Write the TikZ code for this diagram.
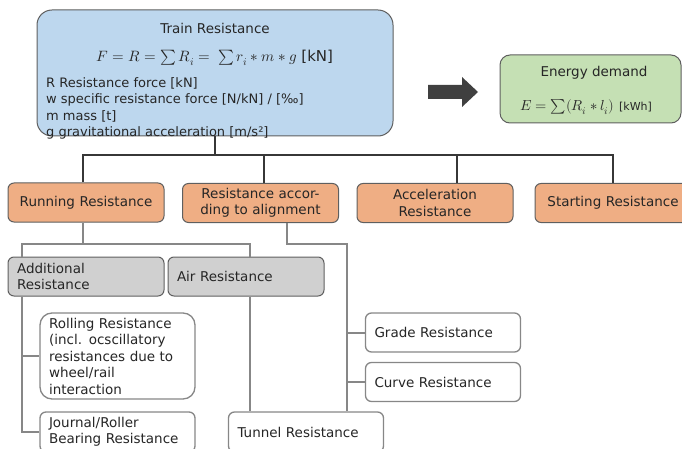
\documentclass[tikz,border=0pt]{standalone}
\usepackage{fontspec}
\usepackage{unicode-math}
\setmainfont{DejaVu Sans}
\setmathfont{Latin Modern Math}
\usepackage{tikz}
\usetikzlibrary{calc}

\definecolor{trainblue}{RGB}{189,215,238}
\definecolor{energygreen}{RGB}{197,224,180}
\definecolor{resorange}{RGB}{239,174,132}
\definecolor{resgrey}{RGB}{208,208,208}
\definecolor{boxline}{RGB}{95,95,95}
\definecolor{subline}{RGB}{135,135,135}
\definecolor{busline}{RGB}{55,55,55}

\begin{document}
\begin{tikzpicture}[x=1pt,y=-1pt,
  every node/.style={font=\fontsize{13.5}{16.5}\selectfont, text=black!85},
  resbox/.style={draw=boxline, line width=1pt, rounded corners=6pt, minimum height=39pt, inner xsep=9pt, inner ysep=2pt, text width=138pt},
  mainres/.style={resbox, fill=resorange, align=center},
  addres/.style={resbox, fill=resgrey, align=left},
  leafres/.style={resbox, draw=subline, line width=1.3pt, fill=white, align=left, text width=137pt},
  bus/.style={draw=busline, line width=1.8pt},
  branch/.style={draw=subline, line width=2pt}]
\useasboundingbox (0,0) rectangle (682,449);

% train resistance
\node[draw=boxline, line width=1pt, fill=trainblue, rounded corners=15pt, minimum width=356pt, minimum height=126pt] (train) at (215,73) {};
\node (traintitle) at (215,28) {Train Resistance};
\node[font=\fontsize{15}{18}\selectfont] (trainformula) at (215,58) {$F = R = \sum R_i = \;\sum r_i * m * g$ [kN]};
\node[anchor=west, align=left, inner sep=0pt, font=\fontsize{13}{16.3}\selectfont] (trainlegend) at (46,108.5) {R Resistance force [kN]\\ w specific resistance force [N/kN] / [‰]\\ m mass [t]\\ g gravitational acceleration [m/s²]};

% energy demand
\fill[black!75] (428,85) -- (462,85) -- (462,77) -- (478,92) -- (462,107) -- (462,99) -- (428,99) -- cycle;
\node[draw=boxline, line width=1pt, fill=energygreen, rounded corners=10pt, minimum width=181pt, minimum height=68pt] (energy) at (590.5,89) {};
\node (energytitle) at (594,73) {Energy demand};
\node[font=\fontsize{14.5}{17}\selectfont] (energyformula) at (586,107) {$E = \sum(R_i * l_i)$ {\fontsize{11}{13}\selectfont[kWh]}};

% kinds of resistance
\node[mainres] (run) at (86,202.5) {Running Resistance};
\node[mainres] (alignres) at (260.5,203) {Resistance accor-\\ding to alignment};
\node[mainres] (accel) at (435,203) {Acceleration\\Resistance};
\node[mainres] (start) at (613,203) {Starting Resistance};

\node[addres] (add) at (86,276.5) {Additional\\Resistance};
\node[addres] (air) at (246,276.5) {Air Resistance};
\node[leafres, rounded corners=12pt, minimum height=86pt] (roll) at (117.5,356) {Rolling Resistance\\(incl. ocscillatory\\resistances due to\\wheel/rail\\interaction};
\node[leafres, minimum height=40pt] (journal) at (117.5,432) {Journal/Roller\\Bearing Resistance};
\node[leafres, minimum height=40pt] (tunnel) at (306,432) {Tunnel Resistance};
\node[leafres] (grade) at (443,332.5) {Grade Resistance};
\node[leafres] (curve) at (443,382) {Curve Resistance};

% first level
\coordinate (hub) at (215,155);
\draw[bus] (train.south) -- (hub);
\draw[bus] ($(run.north)+(-3,0)$) |- ($(start.north)+(0,-28)$) -- (start.north);
\draw[bus] ($(alignres.north)+(3.5,0)$) -- ++(0,-28);
\draw[bus] ($(accel.north)+(22,0)$) -- ++(0,-28);

% second level
\coordinate (runjoin) at (83,244);
\draw[branch] ($(run.south)+(-3,0)$) -- (runjoin);
\draw[branch] ($(add.north west)+(14,0)$) |- ($(air.north)+(4,-13)$) -- ($(air.north)+(4,0)$);
\coordinate (addspine) at ($(add.south west)+(14,0)$);
\draw[branch] (addspine) |- (journal.west);
\draw[branch] (addspine |- roll.west) -- (roll.west);
\coordinate (airdrop) at ($(air.south)+(4,0)$);
\draw[branch] (airdrop) -- (airdrop |- tunnel.north);
\coordinate (alignspine) at (347,244);
\draw[branch] ($(alignres.south)+(26.5,0)$) |- (alignspine) -- (alignspine |- tunnel.north);
\draw[branch] (alignspine |- grade.west) -- (grade.west);
\draw[branch] (alignspine |- curve.west) -- (curve.west);
\end{tikzpicture}
\end{document}
